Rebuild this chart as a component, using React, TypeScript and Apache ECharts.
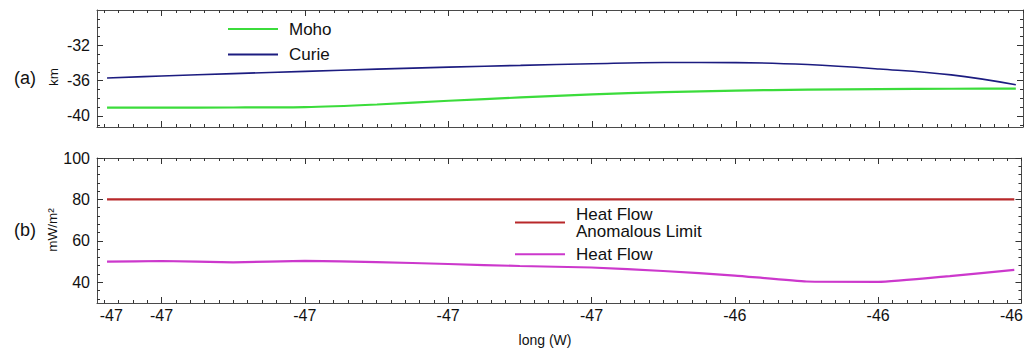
import React, { useEffect, useRef } from 'react';
import * as echarts from 'echarts';

// longitude (W) sample points
const lon = [-47.276, -47.2, -47.1, -47.0, -46.9, -46.8, -46.7, -46.6, -46.5, -46.4, -46.3, -46.2, -46.1, -46.01];
// panel (a) depths, km
const moho = [-39.05, -39.05, -39.04, -39.0, -38.7, -38.28, -37.9, -37.55, -37.3, -37.12, -37.02, -36.96, -36.92, -36.9];
const curie = [-35.7, -35.47, -35.2, -34.95, -34.7, -34.47, -34.27, -34.08, -33.95, -33.96, -34.18, -34.68, -35.35, -36.46];
// panel (b) heat flow, mW/m2
const heatFlow = [49.93, 50.27, 49.64, 50.36, 49.78, 48.82, 47.85, 47.13, 45.44, 43.26, 40.37, 40.22, 43.02, 46.0];
const heatFlowLimit = [80, 80, 80, 80, 80, 80, 80, 80, 80, 80, 80, 80, 80, 80];

// axes
const X_MIN = -47.29;
const X_MAX = -46.0;
const xMajorTicks = [-47.2, -47.0, -46.8, -46.6, -46.4, -46.2];
const xLabelValues = [-47.27, -47.2, -47.0, -46.8, -46.6, -46.4, -46.2, -46.014];
const KM_MIN = -41.25;
const KM_MAX = -28;
const kmMajorTicks = [-40, -36, -32];
const kmLabelValues = [-40, -36, -32];
const HF_MIN = 30;
const HF_MAX = 100;
const hfMajorTicks = [40, 60, 80, 100];
const hfLabelValues = [40, 60, 80, 100];

const FONT = '"Liberation Sans", Arial, sans-serif';
const AXIS_COLOR = '#4a4a4a';
const TICK_COLOR = '#333333';
const TEXT_COLOR = '#111111';

function steps(a: number, b: number, step: number): number[] {
  const out: number[] = [];
  const n = Math.round((b - a) / step);
  for (let i = 0; i <= n; i++) out.push(Math.round((a + i * step) * 1000) / 1000);
  return out;
}

const xMinorTicks = steps(-47.28, -46.0, 0.02);
const kmMinorTicks = steps(-41, -29, 1);
const hfMinorTicks = steps(32, 96, 4);

const GRIDS = [
  { left: 97, top: 10, width: 926, height: 117 },
  { left: 97, top: 158, width: 926, height: 145 },
];

function xAxesFor(g: number) {
  const base = {
    gridIndex: g,
    type: 'value',
    min: X_MIN,
    max: X_MAX,
    splitLine: { show: false },
  };
  const line = { show: true, lineStyle: { color: AXIS_COLOR, width: 1 } };
  return [
    {
      ...base,
      position: 'bottom',
      axisLine: line,
      axisTick: { show: true, inside: true, length: 6, customValues: xMajorTicks, lineStyle: { color: TICK_COLOR } },
      axisLabel:
        g === 1
          ? {
              show: true,
              customValues: xLabelValues,
              formatter: (v: number) => v.toFixed(0),
              fontSize: 16,
              fontFamily: FONT,
              color: TEXT_COLOR,
              margin: 4,
            }
          : { show: false },
    },
    {
      ...base,
      position: 'bottom',
      axisLine: { show: false },
      axisTick: { show: true, inside: true, length: 3, customValues: xMinorTicks, lineStyle: { color: TICK_COLOR } },
      axisLabel: { show: false },
    },
    {
      ...base,
      position: 'top',
      axisLine: line,
      axisTick: { show: true, inside: true, length: 6, customValues: xMajorTicks, lineStyle: { color: TICK_COLOR } },
      axisLabel: { show: false },
    },
    {
      ...base,
      position: 'top',
      axisLine: { show: false },
      axisTick: { show: true, inside: true, length: 3, customValues: xMinorTicks, lineStyle: { color: TICK_COLOR } },
      axisLabel: { show: false },
    },
  ];
}

function yAxesFor(g: number) {
  const min = g === 0 ? KM_MIN : HF_MIN;
  const max = g === 0 ? KM_MAX : HF_MAX;
  const major = g === 0 ? kmMajorTicks : hfMajorTicks;
  const minor = g === 0 ? kmMinorTicks : hfMinorTicks;
  const labels = g === 0 ? kmLabelValues : hfLabelValues;
  const base = { gridIndex: g, type: 'value', min, max, splitLine: { show: false } };
  const line = { show: true, lineStyle: { color: AXIS_COLOR, width: 1 } };
  return [
    {
      ...base,
      position: 'left',
      axisLine: line,
      axisTick: { show: true, inside: true, length: 6, customValues: major, lineStyle: { color: TICK_COLOR } },
      axisLabel: {
        show: true,
        customValues: labels,
        fontSize: 16,
        fontFamily: FONT,
        color: TEXT_COLOR,
        margin: 7,
      },
    },
    {
      ...base,
      position: 'left',
      axisLine: { show: false },
      axisTick: { show: true, inside: true, length: 3, customValues: minor, lineStyle: { color: TICK_COLOR } },
      axisLabel: { show: false },
    },
    {
      ...base,
      position: 'right',
      axisLine: line,
      axisTick: { show: true, inside: true, length: 6, customValues: major, lineStyle: { color: TICK_COLOR } },
      axisLabel: { show: false },
    },
    {
      ...base,
      position: 'right',
      axisLine: { show: false },
      axisTick: { show: true, inside: true, length: 3, customValues: minor, lineStyle: { color: TICK_COLOR } },
      axisLabel: { show: false },
    },
  ];
}

function lineSeries(name: string, values: number[], color: string, g: number, width: number, smooth: number) {
  return {
    name,
    type: 'line',
    xAxisIndex: g * 4,
    yAxisIndex: g * 4,
    data: lon.map((x, i) => [x, values[i]]),
    showSymbol: false,
    symbol: 'none',
    smooth,
    color,
    lineStyle: { color, width },
    z: 3,
  };
}

const LIMIT_NAME = 'Heat Flow\nAnomalous Limit';

function legendFor(name: string, left: number, top: number) {
  return {
    data: [name],
    left,
    top,
    orient: 'vertical',
    padding: 0,
    itemWidth: 50,
    itemHeight: 2,
    icon: 'rect',
    selectedMode: false,
    textStyle: {
      fontSize: 17,
      lineHeight: 17,
      fontFamily: FONT,
      color: TEXT_COLOR,
      padding: [0, 0, 0, 6],
    },
  };
}

export default function App() {
  const ref = useRef<HTMLDivElement>(null);
  useEffect(() => {
    if (!ref.current) return;
    const chart = echarts.init(ref.current, undefined, { renderer: 'svg' });
    chart.setOption({
      animation: false,
      backgroundColor: '#ffffff',
      grid: GRIDS,
      xAxis: [...xAxesFor(0), ...xAxesFor(1)],
      yAxis: [...yAxesFor(0), ...yAxesFor(1)],
      legend: [
        legendFor('Moho', 228, 20.5),
        legendFor('Curie', 228, 46),
        legendFor(LIMIT_NAME, 515, 205.5),
        legendFor('Heat Flow', 515, 245.8),
      ],
      series: [
        lineSeries('Moho', moho, '#3bdc3b', 0, 2.2, 0.2),
        lineSeries('Curie', curie, '#1c1c80', 0, 1.6, 0.4),
        lineSeries(LIMIT_NAME, heatFlowLimit, '#b8282a', 1, 2.2, 0),
        lineSeries('Heat Flow', heatFlow, '#cc38cc', 1, 2.2, 0.15),
      ],
      graphic: [
        {
          type: 'text',
          x: 25,
          y: 78,
          style: { text: '(a)', fontSize: 18, fontFamily: FONT, fill: TEXT_COLOR, textAlign: 'center', textVerticalAlign: 'middle' },
        },
        {
          type: 'text',
          x: 53,
          y: 77,
          rotation: Math.PI / 2,
          style: { text: 'km', fontSize: 13.5, fontFamily: FONT, fill: TEXT_COLOR, textAlign: 'center', textVerticalAlign: 'middle' },
        },
        {
          type: 'text',
          x: 25,
          y: 230,
          style: { text: '(b)', fontSize: 18, fontFamily: FONT, fill: TEXT_COLOR, textAlign: 'center', textVerticalAlign: 'middle' },
        },
        {
          type: 'text',
          x: 52,
          y: 230,
          rotation: Math.PI / 2,
          style: { text: 'mW/m²', fontSize: 13.5, fontFamily: FONT, fill: TEXT_COLOR, textAlign: 'center', textVerticalAlign: 'middle' },
        },
        {
          type: 'text',
          x: 545,
          y: 340,
          style: { text: 'long (W)', fontSize: 14, fontFamily: FONT, fill: TEXT_COLOR, textAlign: 'center', textVerticalAlign: 'middle' },
        },
      ],
    });
    return () => chart.dispose();
  }, []);
  return (
    <div
      ref={ref}
      style={{ position: 'fixed', left: 0, top: 0, width: 1026, height: 351, background: '#fff' }}
    />
  );
}
